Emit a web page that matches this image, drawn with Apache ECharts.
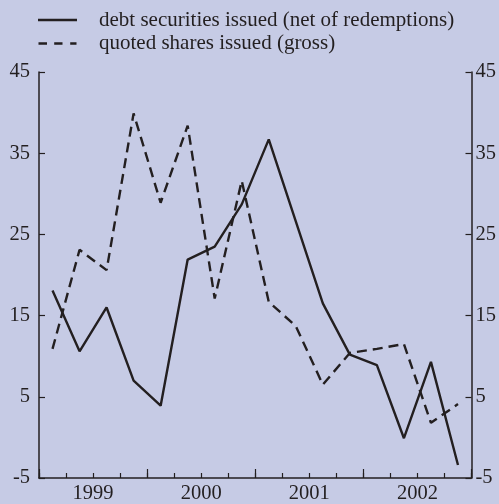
<!DOCTYPE html>
<html>
<head>
<meta charset="utf-8">
<script src="https://cdn.jsdelivr.net/npm/echarts@6/dist/echarts.min.js"></script>
<style>
html,body{margin:0;padding:0;background:#c6cbe5;}
#c{width:499px;height:504px;}
</style>
</head>
<body>
<div id="c"></div>
<script>
var quarters = ['1999Q1','1999Q2','1999Q3','1999Q4','2000Q1','2000Q2','2000Q3','2000Q4','2001Q1','2001Q2','2001Q3','2001Q4','2002Q1','2002Q2','2002Q3','2002Q4'];
var years = ['1999','2000','2001','2002'];
var debtSecurities = [18.1, 10.6, 16.0, 7.0, 3.9, 21.9, 23.5, 28.7, 36.7, 26.6, 16.5, 10.2, 8.9, -0.1, 9.3, -3.4];
var quotedShares = [10.9, 23.1, 20.6, 39.9, 28.9, 38.4, 17.1, 31.6, 16.7, 13.7, 6.5, 10.4, 10.9, 11.5, 1.8, 4.1];
var yTicks = {min: -5, max: 45, interval: 10};
var seriesNames = ['debt securities issued (net of redemptions)', 'quoted shares issued (gross)'];

var ink = '#231f20';
var font = 'Liberation Serif';
var solidIcon = 'path://M0,0L39,0L39,2.6L0,2.6Z';
var dashIcon = 'path://M0,0L8.5,0L8.5,2.6L0,2.6Z M15.7,0L24,0L24,2.6L15.7,2.6Z M31.7,0L38,0L38,2.6L31.7,2.6Z';
var chart = echarts.init(document.getElementById('c'), null, {renderer: 'canvas'});
chart.setOption({
  backgroundColor: '#c6cbe5',
  animation: false,
  textStyle: {fontFamily: font, color: ink},
  legend: {
    orient: 'vertical',
    left: 33,
    top: 4,
    itemWidth: 39,
    itemHeight: 2.6,
    itemGap: 1.5,
    itemStyle: {color: ink},
    textStyle: {fontFamily: font, fontSize: 21, color: ink, lineHeight: 22, padding: [0, 0, 0, 17]},
    data: [{name: seriesNames[0], icon: solidIcon}, {name: seriesNames[1], icon: dashIcon}]
  },
  grid: {left: 39, right: 22, top: 72, bottom: 25, containLabel: false},
  xAxis: [{
    type: 'category',
    data: quarters,
    boundaryGap: true,
    position: 'bottom',
    axisLine: {show: true, onZero: false, lineStyle: {color: ink, width: 1.5}},
    axisTick: {show: true, inside: true, length: 5, interval: 0, lineStyle: {color: ink, width: 1.2}},
    axisLabel: {show: false},
    splitLine: {show: false}
  }, {
    type: 'category',
    data: years,
    boundaryGap: true,
    position: 'bottom',
    axisLine: {show: false, onZero: false},
    axisTick: {show: true, inside: true, length: 9, interval: 0, lineStyle: {color: ink, width: 1.2}},
    axisLabel: {show: true, interval: 0, margin: 5, fontFamily: font, fontSize: 20.5, color: ink},
    splitLine: {show: false}
  }],
  yAxis: [{
    type: 'value',
    position: 'left',
    min: yTicks.min, max: yTicks.max, interval: yTicks.interval,
    axisLine: {show: true, lineStyle: {color: ink, width: 1.5}},
    axisTick: {show: true, inside: true, length: 6, lineStyle: {color: ink, width: 1.2}},
    axisLabel: {margin: 9, fontFamily: font, fontSize: 20.5, color: ink},
    splitLine: {show: false}
  }, {
    type: 'value',
    position: 'right',
    min: yTicks.min, max: yTicks.max, interval: yTicks.interval,
    axisLine: {show: true, lineStyle: {color: ink, width: 1.5}},
    axisTick: {show: true, inside: true, length: 6, lineStyle: {color: ink, width: 1.2}},
    axisLabel: {margin: 4, fontFamily: font, fontSize: 20.5, color: ink},
    splitLine: {show: false}
  }],
  series: [{
    name: seriesNames[0],
    type: 'line',
    xAxisIndex: 0, yAxisIndex: 0,
    data: debtSecurities,
    symbol: 'none',
    lineStyle: {color: ink, width: 2.4, type: 'solid'},
    itemStyle: {color: ink}
  }, {
    name: seriesNames[1],
    type: 'line',
    xAxisIndex: 0, yAxisIndex: 0,
    data: quotedShares,
    symbol: 'none',
    lineStyle: {color: ink, width: 2.4, type: [10, 6]},
    itemStyle: {color: ink}
  }]
});
</script>
</body>
</html>
